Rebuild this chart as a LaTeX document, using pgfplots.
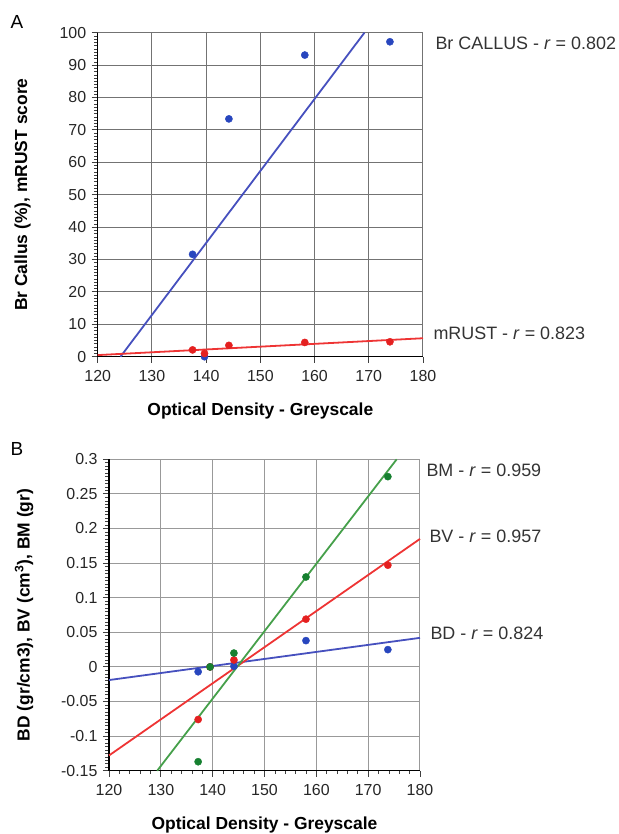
\documentclass[border=0pt]{standalone}
\usepackage{fontspec}
\setmainfont{Liberation Sans}
\usepackage{pgfplots}
\pgfplotsset{compat=1.18}

\definecolor{bluemk}{RGB}{40,70,190}
\definecolor{blueln}{RGB}{70,80,190}
\definecolor{redmk}{RGB}{228,32,32}
\definecolor{redln}{RGB}{238,52,52}
\definecolor{greenmk}{RGB}{22,128,48}
\definecolor{greenln}{RGB}{70,160,75}

\tikzset{rlabel/.style={anchor=west, font=\fontsize{18}{18}\selectfont, text=black!80}}

\pgfplotsset{
  panel/.style={
    scale only axis,
    axis x line*=bottom, axis y line*=left,
    axis line style={black, line width=1.4bp, -},
    grid=major,
    tick align=outside,
    major tick length=6bp, minor tick length=3.5bp,
    tick style={black!75, line width=0.9bp},
    minor tick style={black!75, line width=0.6bp},
    ticklabel style={font=\fontsize{16}{16}\selectfont, text=black!85},
    xticklabel style={yshift=-4bp},
    yticklabel style={xshift=-2bp},
    /pgf/number format/assume math mode=true,
    scaled ticks=false,
    xmin=120, xmax=180, xtick={120,130,140,150,160,170,180},
    label style={font=\bfseries\fontsize{17.5}{18}\selectfont},
    xlabel style={at={(axis description cs:0.5,0)}, anchor=center, yshift=-54bp},
    clip=false,
  },
  dots/.style={only marks, mark=*, mark size=3.6bp},
  fit/.style={no marks, line width=1.8bp},
}

\begin{document}
\begin{tikzpicture}
\path[use as bounding box] (0,0) rectangle (619bp,-834bp);

% Panel A: bridging callus and mRUST score
\begin{axis}[panel,
  at={(97.7bp,-356.7bp)}, anchor=south west,
  width=325.3bp, height=324bp,
  ymin=0, ymax=100, ytick={0,10,...,100},
  minor y tick num=9,
  major grid style={black!55, line width=1bp},
  xlabel={Optical Density - Greyscale},
  ylabel={Br Callus (\%), mRUST score},
  ylabel style={at={(axis description cs:0,0.5)}, anchor=center, yshift=75bp},
]
\addplot[fit, color=blueln] coordinates {(124.2,0) (169.2,100)};
\addplot[fit, color=redln] coordinates {(120,0.5) (180,5.7)};
\addplot[dots, color=bluemk] coordinates {
  (137.5,31.6) (139.7,0) (144.2,73.4) (158.2,93.1) (173.9,97.2)};
\addplot[dots, color=redmk] coordinates {
  (137.5,2.1) (139.7,1.0) (144.2,3.5) (158.2,4.4) (173.9,4.6)};
\node[rlabel, xshift=9bp] at (axis cs:180,96.8) {Br CALLUS - \textit{r} = 0.802};
\node[rlabel, xshift=7bp] at (axis cs:180,7.2) {mRUST - \textit{r} = 0.823};
\end{axis}

% Panel B: bone density, volume and mass
\begin{axis}[panel,
  at={(109bp,-770.7bp)}, anchor=south west,
  width=311bp, height=311.4bp,
  ymin=-0.15, ymax=0.3,
  ytick={-0.15,-0.1,-0.05,0,0.05,0.1,0.15,0.2,0.25,0.3},
  yticklabels={-0.15,-0.1,-0.05,0,0.05,0.1,0.15,0.2,0.25,0.3},
  minor y tick num=9, minor x tick num=4,
  major grid style={black!40, line width=1bp},
  xlabel={Optical Density - Greyscale},
  ylabel={BD (gr/cm3), BV (cm\textsuperscript{3}), BM (gr)},
  ylabel style={at={(axis description cs:0,0.5)}, anchor=center, yshift=85bp},
]
\addplot[fit, color=blueln] coordinates {(120,-0.019) (180,0.042)};
\addplot[fit, color=redln] coordinates {(120,-0.128) (180,0.185)};
\addplot[fit, color=greenln] coordinates {(129.3,-0.15) (175.5,0.3)};
\addplot[dots, color=bluemk] coordinates {
  (137.2,-0.007) (139.5,0) (144.1,0.001) (158.0,0.038) (173.8,0.025)};
\addplot[dots, color=redmk] coordinates {
  (137.2,-0.076) (139.5,0) (144.1,0.010) (158.0,0.069) (173.8,0.147)};
\addplot[dots, color=greenmk] coordinates {
  (137.2,-0.137) (139.5,0) (144.1,0.020) (158.0,0.130) (173.8,0.275)};
\node[rlabel, xshift=3bp] at (axis cs:180,0.2845) {BM - \textit{r} = 0.959};
\node[rlabel, xshift=6bp] at (axis cs:180,0.188) {BV - \textit{r} = 0.957};
\node[rlabel, xshift=7bp] at (axis cs:180,0.0486) {BD - \textit{r} = 0.824};
\end{axis}

% panel letters
\node[font=\fontsize{19}{19}\selectfont] at (17bp,-22bp) {A};
\node[font=\fontsize{19}{19}\selectfont] at (17bp,-449bp) {B};
\end{tikzpicture}
\end{document}
